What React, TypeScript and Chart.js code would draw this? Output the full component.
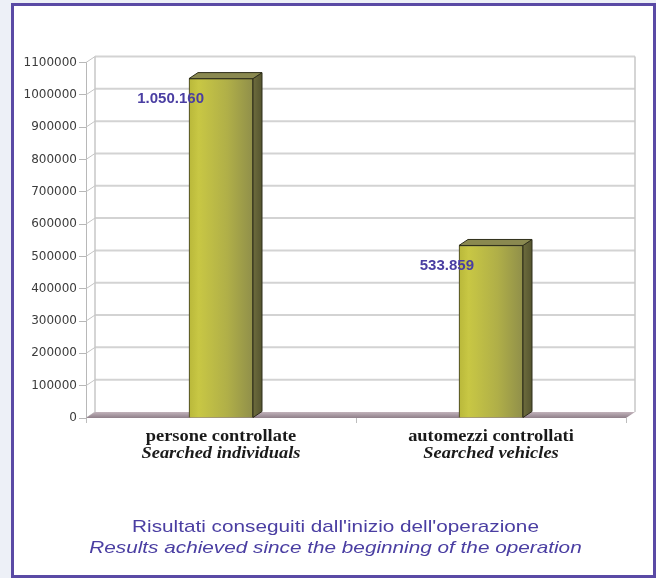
import React, { useEffect, useRef } from "react";
import { Chart, registerables } from "chart.js";

Chart.register(...registerables);

// ---- data ----
const categoriesIt = ["persone controllate", "automezzi controllati"];
const categoriesEn = ["Searched individuals", "Searched vehicles"];
const values = [1050160, 533859];
const valueLabels = ["1.050.160", "533.859"];
const yMin = 0;
const yMax = 1100000;
const yStep = 100000;
const titleIt = "Risultati conseguiti dall'inizio dell'operazione";
const titleEn = "Results achieved since the beginning of the operation";

// ---- styling ----
const DX = 9;
const DY = -6;
const BAR_W = 64;
const SANS = "'Liberation Sans', Arial, sans-serif";
const SERIF = "'Liberation Serif', 'Times New Roman', serif";
const PURPLE = "#4a3ea2";

function stretchedText(ctx: any, text: string, x: number, y: number, sx: number) {
  ctx.save();
  ctx.translate(x, y);
  ctx.scale(sx, 1);
  ctx.fillText(text, 0, 0);
  ctx.restore();
}

const wallPlugin = {
  id: "wall3d",
  beforeDatasetsDraw(chart: any) {
    const { ctx, chartArea: a, scales } = chart;
    const y = scales.y;
    ctx.save();
    y.ticks.forEach((t: any) => {
      const py = y.getPixelForValue(t.value);
      if (t.value !== 0) {
        ctx.strokeStyle = "#d3d3d3";
        ctx.lineWidth = 2;
        ctx.beginPath();
        ctx.moveTo(a.left + DX, py + DY);
        ctx.lineTo(a.right + DX, py + DY);
        ctx.stroke();
      }
      ctx.strokeStyle = "#c4c4c4";
      ctx.lineWidth = 1;
      ctx.beginPath();
      ctx.moveTo(a.left, py);
      ctx.lineTo(a.left + DX, py + DY);
      ctx.stroke();
    });
    ctx.strokeStyle = "#c8c8c8";
    ctx.lineWidth = 1.5;
    ctx.beginPath();
    ctx.moveTo(a.left + DX, a.top + DY);
    ctx.lineTo(a.left + DX, a.bottom + DY);
    ctx.moveTo(a.right + DX, a.top + DY);
    ctx.lineTo(a.right + DX, a.bottom + DY);
    ctx.stroke();
    const g = ctx.createLinearGradient(0, a.bottom + DY, 0, a.bottom);
    g.addColorStop(0, "#c2b3bb");
    g.addColorStop(1, "#8f7f89");
    ctx.fillStyle = g;
    ctx.beginPath();
    ctx.moveTo(a.left, a.bottom);
    ctx.lineTo(a.right, a.bottom);
    ctx.lineTo(a.right + DX, a.bottom + DY);
    ctx.lineTo(a.left + DX, a.bottom + DY);
    ctx.closePath();
    ctx.fill();
    ctx.restore();
  },
};

const bar3dPlugin = {
  id: "bar3d",
  afterDatasetsDraw(chart: any) {
    const { ctx } = chart;
    const meta = chart.getDatasetMeta(0);
    ctx.save();
    meta.data.forEach((el: any) => {
      const { x, y, base, width } = el.getProps(["x", "y", "base", "width"], true);
      const l = x - width / 2;
      const r = x + width / 2;
      const sg = ctx.createLinearGradient(r, 0, r + DX, 0);
      sg.addColorStop(0, "#6d6c3d");
      sg.addColorStop(1, "#55552f");
      ctx.fillStyle = sg;
      ctx.strokeStyle = "#2f2f1b";
      ctx.lineWidth = 1;
      ctx.beginPath();
      ctx.moveTo(r, y);
      ctx.lineTo(r + DX, y + DY);
      ctx.lineTo(r + DX, base + DY);
      ctx.lineTo(r, base);
      ctx.closePath();
      ctx.fill();
      ctx.stroke();
      ctx.fillStyle = "#8a8950";
      ctx.beginPath();
      ctx.moveTo(l, y);
      ctx.lineTo(l + DX, y + DY);
      ctx.lineTo(r + DX, y + DY);
      ctx.lineTo(r, y);
      ctx.closePath();
      ctx.fill();
      ctx.stroke();
    });
    ctx.restore();
  },
};

const labelsPlugin = {
  id: "valueLabels",
  afterDatasetsDraw(chart: any) {
    const { ctx } = chart;
    const meta = chart.getDatasetMeta(0);
    ctx.save();
    ctx.font = `bold 15px ${SANS}`;
    ctx.fillStyle = PURPLE;
    ctx.textAlign = "right";
    ctx.textBaseline = "middle";
    meta.data.forEach((el: any, i: number) => {
      const { x, y, width } = el.getProps(["x", "y", "width"], true);
      ctx.fillText(valueLabels[i], x - width / 2 + 15, y + 20);
    });
    ctx.restore();
  },
};

const textPlugin = {
  id: "texts",
  afterDraw(chart: any) {
    const { ctx, chartArea: a, scales, width } = chart;
    const xs = scales.x;
    ctx.save();
    ctx.textBaseline = "alphabetic";
    ctx.textAlign = "center";
    // category labels
    ctx.fillStyle = "#1a1a1a";
    categoriesIt.forEach((c, i) => {
      const px = xs.getPixelForValue(i);
      ctx.font = `bold 16px ${SERIF}`;
      stretchedText(ctx, c, px, a.bottom + 22.5, 1.15);
      ctx.font = `italic bold 16px ${SERIF}`;
      stretchedText(ctx, categoriesEn[i], px, a.bottom + 39.5, 1.15);
    });
    // title
    ctx.fillStyle = PURPLE;
    const cx = width / 2 + 2;
    ctx.font = `17px ${SANS}`;
    stretchedText(ctx, titleIt, cx, a.bottom + 114, 1.22);
    ctx.font = `italic 17px ${SANS}`;
    stretchedText(ctx, titleEn, cx, a.bottom + 135, 1.22);
    ctx.restore();
  },
};

export default function App() {
  const ref = useRef<HTMLCanvasElement | null>(null);

  useEffect(() => {
    if (!ref.current) return;
    const chart = new Chart(ref.current, {
      type: "bar",
      data: {
        labels: categoriesIt,
        datasets: [
          {
            data: values,
            barThickness: BAR_W,
            borderColor: "#34341c",
            borderWidth: 1,
            backgroundColor: (c: any) => {
              const ch = c.chart;
              const xs = ch.scales && ch.scales.x;
              if (!xs || !ch.chartArea) return "#b5b445";
              const cx = xs.getPixelForValue(c.dataIndex);
              const g = ch.ctx.createLinearGradient(cx - BAR_W / 2, 0, cx + BAR_W / 2, 0);
              g.addColorStop(0, "#b9b83a");
              g.addColorStop(0.15, "#c8c744");
              g.addColorStop(0.6, "#b0af48");
              g.addColorStop(1, "#908f4a");
              return g;
            },
          },
        ],
      },
      options: {
        animation: false,
        responsive: true,
        maintainAspectRatio: false,
        layout: { padding: { left: 0, right: 27, top: 56.5, bottom: 0 } },
        plugins: {
          legend: { display: false },
          tooltip: { enabled: false },
          title: { display: false },
        },
        scales: {
          x: {
            type: "category",
            ticks: { display: false },
            grid: {
              display: true,
              drawOnChartArea: false,
              drawTicks: true,
              tickLength: 5,
              color: "#bdbdbd",
              offset: true,
            },
            border: { display: false },
            afterFit: (s: any) => {
              s.height = 157;
            },
          },
          y: {
            min: yMin,
            max: yMax,
            ticks: {
              stepSize: yStep,
              color: "#3c3c3c",
              font: { family: "'DejaVu Sans', sans-serif", size: 12 },
              padding: 2,
              callback: (v: any) => String(v),
            },
            grid: {
              display: true,
              drawOnChartArea: false,
              drawTicks: true,
              tickLength: 7,
              color: "#b8b8b8",
            },
            border: { display: true, color: "#b8b8b8", width: 1 },
            afterFit: (s: any) => {
              s.width = 72;
            },
          },
        },
      },
      plugins: [wallPlugin, bar3dPlugin, labelsPlugin, textPlugin],
    } as any);
    return () => chart.destroy();
  }, []);

  return (
    <div style={{ position: "fixed", inset: 0, background: "#edf0f7" }}>
      <div
        style={{
          position: "absolute",
          left: 11,
          top: 3,
          width: 645,
          height: 575,
          border: "3px solid #5a4aa5",
          boxSizing: "border-box",
          background: "#ffffff",
        }}
      >
        <div style={{ position: "relative", width: 639, height: 569 }}>
          <canvas ref={ref} />
        </div>
      </div>
    </div>
  );
}
